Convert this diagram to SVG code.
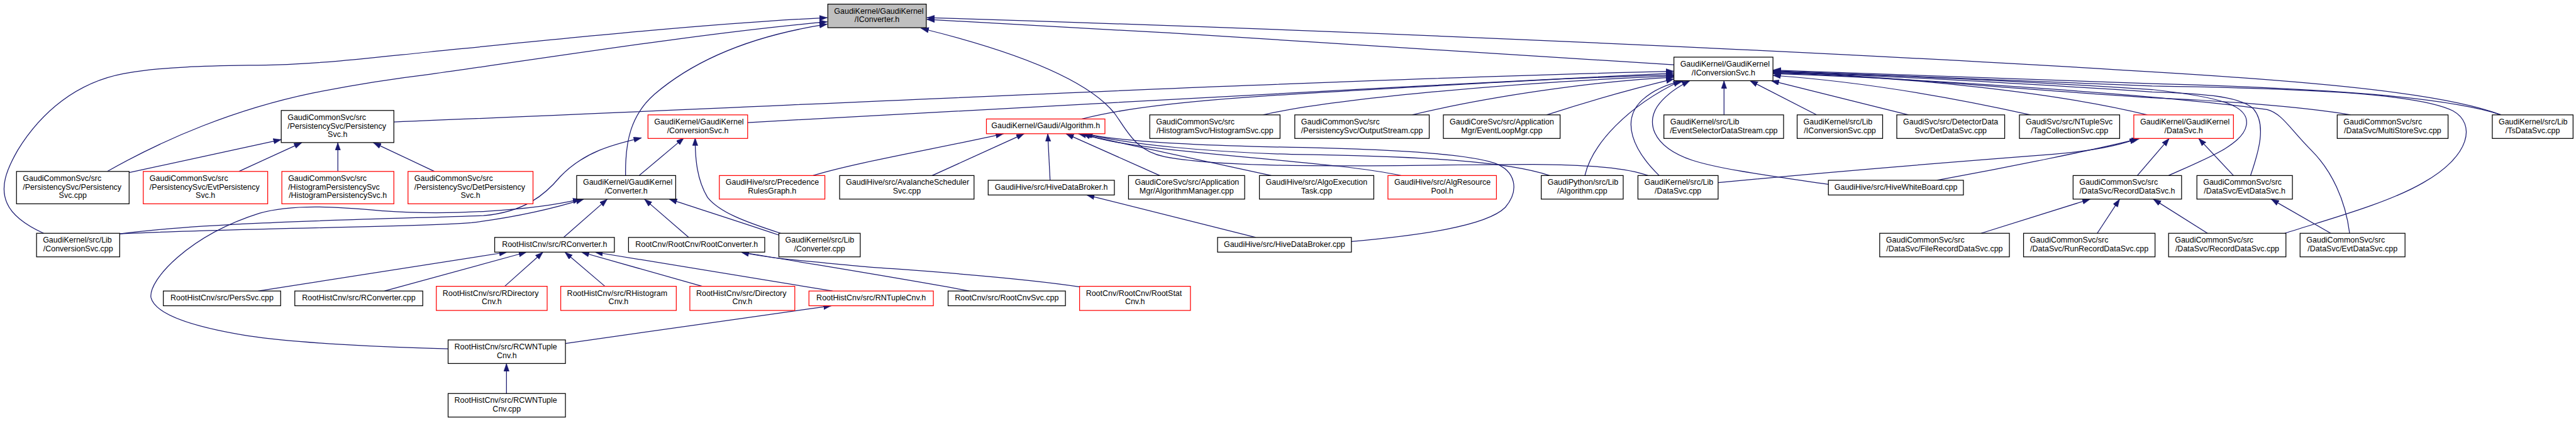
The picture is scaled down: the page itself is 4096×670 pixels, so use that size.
<svg xmlns="http://www.w3.org/2000/svg" width="4096" height="670" viewBox="0 0 4096 670">
<style>
.node rect{fill:#fff;stroke:#000;stroke-width:1.33}
.red rect{stroke:#ff0000}
.root rect{fill:#bfbfbf}
text{font-family:"Liberation Sans",Arial,Helvetica,sans-serif;font-size:13.33px;fill:#000}
.s{text-anchor:start}
.m{text-anchor:middle}
#edges path{fill:none;stroke:#191970;stroke-width:1.33;marker-end:url(#ah)}
</style>
<defs>
<marker id="ah" markerUnits="userSpaceOnUse" markerWidth="14" markerHeight="10" refX="13.3" refY="4.67" orient="auto"><path d="M0,0 L13.3,4.67 L0,9.33 z" fill="#191970" stroke="#191970" stroke-width="0.5"/></marker>
</defs>
<rect width="4096" height="670" fill="#fff"/>
<g transform="scale(0.93752)">
<g id="edges">
<path d="M74,396 C50,385 22,368 12,345 C0,318 10,290 30,255 C70,190 130,140 210,125 C290,110 400,112 470,110 C560,107 650,96 730,88 C950,66 1200,40 1403,30"/>
<path d="M182,291 C280,235 400,185 530,158 C620,140 680,132 730,126 C950,95 1200,55 1403,37"/>
<path d="M1061,298 C1060,240 1070,195 1110,160 C1180,100 1280,60 1403,41"/>
<path d="M2839,110 C2500,88 2000,55 1572,33"/>
<path d="M4242,195 C4150,160 3950,140 3650,122 C3300,100 2500,58 1572,30"/>
<path d="M2795,298 C2760,285 2700,280 2600,279 C2400,279 2100,290 1975,266 C1925,256 1912,222 1890,192 C1840,130 1700,82 1562,48"/>
<path d="M668,207 C1300,182 2200,136 2839,121"/>
<path d="M1268,208 C1700,186 2300,150 2839,124"/>
<path d="M1835,202 C1900,185 2000,172 2190,160 C2450,145 2650,132 2839,127"/>
<path d="M2142,195 C2250,170 2550,140 2839,129"/>
<path d="M2395,195 C2520,165 2700,138 2839,131"/>
<path d="M2623,195 C2700,170 2780,148 2839,134"/>
<path d="M2688,298 C2700,245 2760,180 2851,137"/>
<path d="M2814,298 C2770,255 2748,205 2785,170 C2805,152 2830,142 2856,137"/>
<path d="M3101,313 C3000,298 2920,288 2870,272 C2800,248 2790,205 2815,175 C2830,157 2850,145 2866,137"/>
<path d="M2924,195 L2924,137"/>
<path d="M3081,195 L2968,137"/>
<path d="M3237,195 L3004,137"/>
<path d="M3444,195 C3300,163 3150,138 3007,128"/>
<path d="M3642,195 C3500,160 3250,130 3007,124"/>
<path d="M3987,195 C3900,180 3750,170 3650,166 C3400,150 3200,130 3007,121"/>
<path d="M4242,195 C4150,165 3950,150 3650,142 C3400,133 3200,124 3007,119"/>
<path d="M3875,396 C3950,372 4050,345 4110,310 C4190,265 4200,210 4160,188 C4100,158 3900,150 3650,146 C3400,137 3200,126 3007,120"/>
<path d="M3678,298 C3745,268 3805,245 3810,212 C3815,180 3770,165 3650,152 C3400,136 3200,127 3007,122"/>
<path d="M3817,298 C3830,260 3845,212 3822,185 C3800,162 3720,158 3650,156 C3400,140 3200,128 3007,123"/>
<path d="M3985,396 C3978,340 3955,290 3920,255 C3885,220 3870,192 3845,186 C3700,165 3300,135 3007,125"/>
<path d="M3285,306 C3400,285 3550,255 3629,235"/>
<path d="M2914,310 C3100,292 3350,272 3480,262 C3550,256 3595,247 3625,235"/>
<path d="M3625,298 L3679,235"/>
<path d="M3788,298 L3729,235"/>
<path d="M3360,396 L3545,338"/>
<path d="M3557,396 L3595,338"/>
<path d="M3744,396 L3652,338"/>
<path d="M3953,396 L3852,338"/>
<path d="M1379,298 C1450,276 1600,250 1702,227"/>
<path d="M1581,298 L1737,227"/>
<path d="M1781,306 L1777,227"/>
<path d="M1967,298 L1808,227"/>
<path d="M2156,298 L1829,227"/>
<path d="M2376,298 C2290,279 2100,268 1960,251 C1900,244 1862,236 1836,227"/>
<path d="M2628,298 C2560,275 2420,265 2190,262 C2050,258 1920,246 1838,227"/>
<path d="M2292,410 C2400,400 2520,385 2553,352 C2578,322 2570,290 2535,277 C2480,258 2300,252 2190,250 C2020,247 1900,240 1840,227"/>
<path d="M2130,403 L1843,331"/>
<path d="M1084,298 L1160,234"/>
<path d="M203,397 C350,377 650,372 820,366 C890,360 925,330 950,300 C990,258 1040,245 1088,234"/>
<path d="M1324,396 C1262,376 1220,360 1200,335 C1182,305 1179,270 1179,234"/>
<path d="M203,397 C400,387 700,386 800,378 C880,368 945,352 990,338"/>
<path d="M956,403 L1030,338"/>
<path d="M1168,403 L1093,338"/>
<path d="M1324,400 C1250,375 1190,356 1135,338"/>
<path d="M760,592 C650,590 500,582 420,570 C310,552 262,530 256,505 C252,475 320,400 440,362 C500,345 580,352 650,358 C760,366 900,358 985,338"/>
<path d="M438,494 L860,428"/>
<path d="M652,494 L893,428"/>
<path d="M856,486 L921,428"/>
<path d="M1026,486 L958,428"/>
<path d="M1191,486 L986,428"/>
<path d="M1412,494 L1009,428"/>
<path d="M1644,494 C1560,478 1460,462 1257,428"/>
<path d="M1832,487 C1700,467 1500,456 1460,452 C1380,444 1310,440 1257,428"/>
<path d="M959,583 L1410,519"/>
<path d="M859,668 L859,617"/>
<path d="M219,293 L477,237"/>
<path d="M405,291 L512,242"/>
<path d="M573,291 L573,242"/>
<path d="M737,291 L633,242"/>
</g>

<g id="n_IConverter_h" class="node root"><rect x="1404" y="7" width="167" height="40"/><text class="s" x="1414.7" y="23">GaudiKernel/GaudiKernel</text><text class="m" x="1487.5" y="37.7">/IConverter.h</text></g>
<g id="n_IConversionSvc_h" class="node"><rect x="2839" y="97" width="168" height="40"/><text class="s" x="2849.7" y="113">GaudiKernel/GaudiKernel</text><text class="m" x="2923" y="127.7">/IConversionSvc.h</text></g>
<g id="n_PersistencySvc_h" class="node"><rect x="477" y="187.5" width="191" height="54.5"/><text class="s" x="487.7" y="203.5">GaudiCommonSvc/src</text><text class="s" x="487.7" y="218.2">/PersistencySvc/Persistency</text><text class="m" x="572.5" y="232.8">Svc.h</text></g>
<g id="n_ConversionSvc_h" class="node red"><rect x="1099" y="195" width="169" height="40"/><text class="s" x="1109.7" y="211">GaudiKernel/GaudiKernel</text><text class="m" x="1183.5" y="225.7">/ConversionSvc.h</text></g>
<g id="n_Algorithm_h" class="node red"><rect x="1673" y="202" width="201" height="25"/><text class="m" x="1773.5" y="218">GaudiKernel/Gaudi/Algorithm.h</text></g>
<g id="n_HistogramSvc_cpp" class="node"><rect x="1950" y="195" width="221" height="40"/><text class="s" x="1960.7" y="211">GaudiCommonSvc/src</text><text class="m" x="2060.5" y="225.7">/HistogramSvc/HistogramSvc.cpp</text></g>
<g id="n_OutputStream_cpp" class="node"><rect x="2196" y="195" width="228" height="40"/><text class="s" x="2206.7" y="211">GaudiCommonSvc/src</text><text class="m" x="2310" y="225.7">/PersistencySvc/OutputStream.cpp</text></g>
<g id="n_EventLoopMgr_cpp" class="node"><rect x="2448" y="195" width="198" height="40"/><text class="s" x="2458.7" y="211">GaudiCoreSvc/src/Application</text><text class="m" x="2547" y="225.7">Mgr/EventLoopMgr.cpp</text></g>
<g id="n_EventSelectorDataStream_cpp" class="node"><rect x="2822" y="195" width="203" height="40"/><text class="s" x="2832.7" y="211">GaudiKernel/src/Lib</text><text class="m" x="2923.5" y="225.7">/EventSelectorDataStream.cpp</text></g>
<g id="n_IConversionSvc_cpp" class="node"><rect x="3048" y="195" width="145" height="40"/><text class="s" x="3058.7" y="211">GaudiKernel/src/Lib</text><text class="m" x="3120.5" y="225.7">/IConversionSvc.cpp</text></g>
<g id="n_DetDataSvc_cpp" class="node"><rect x="3217" y="195" width="183" height="40"/><text class="s" x="3227.7" y="211">GaudiSvc/src/DetectorData</text><text class="m" x="3308.5" y="225.7">Svc/DetDataSvc.cpp</text></g>
<g id="n_TagCollectionSvc_cpp" class="node"><rect x="3425" y="195" width="170" height="40"/><text class="s" x="3435.7" y="211">GaudiSvc/src/NTupleSvc</text><text class="m" x="3510" y="225.7">/TagCollectionSvc.cpp</text></g>
<g id="n_DataSvc_h" class="node red"><rect x="3619" y="195" width="169" height="40"/><text class="s" x="3629.7" y="211">GaudiKernel/GaudiKernel</text><text class="m" x="3703.5" y="225.7">/DataSvc.h</text></g>
<g id="n_MultiStoreSvc_cpp" class="node"><rect x="3964" y="195" width="188" height="40"/><text class="s" x="3974.7" y="211">GaudiCommonSvc/src</text><text class="m" x="4058" y="225.7">/DataSvc/MultiStoreSvc.cpp</text></g>
<g id="n_TsDataSvc_cpp" class="node"><rect x="4227" y="195" width="137" height="40"/><text class="s" x="4237.7" y="211">GaudiKernel/src/Lib</text><text class="m" x="4295.5" y="225.7">/TsDataSvc.cpp</text></g>

<g id="n_PersistencySvc_cpp" class="node"><rect x="28" y="291" width="191" height="55"/><text class="s" x="38.7" y="307">GaudiCommonSvc/src</text><text class="s" x="38.7" y="321.7">/PersistencySvc/Persistency</text><text class="m" x="123.5" y="336.3">Svc.cpp</text></g>
<g id="n_EvtPersistencySvc_h" class="node red"><rect x="243" y="291" width="211" height="55"/><text class="s" x="253.7" y="307">GaudiCommonSvc/src</text><text class="s" x="253.7" y="321.7">/PersistencySvc/EvtPersistency</text><text class="m" x="348.5" y="336.3">Svc.h</text></g>
<g id="n_HistogramPersistencySvc_h" class="node red"><rect x="478" y="291" width="190" height="55"/><text class="s" x="488.7" y="307">GaudiCommonSvc/src</text><text class="s" x="488.7" y="321.7">/HistogramPersistencySvc</text><text class="m" x="573" y="336.3">/HistogramPersistencySvc.h</text></g>
<g id="n_DetPersistencySvc_h" class="node red"><rect x="692" y="291" width="212" height="55"/><text class="s" x="702.7" y="307">GaudiCommonSvc/src</text><text class="s" x="702.7" y="321.7">/PersistencySvc/DetPersistency</text><text class="m" x="798" y="336.3">Svc.h</text></g>
<g id="n_Converter_h" class="node"><rect x="978" y="298" width="168" height="40"/><text class="s" x="988.7" y="314">GaudiKernel/GaudiKernel</text><text class="m" x="1062" y="328.7">/Converter.h</text></g>
<g id="n_PrecedenceRulesGraph_h" class="node red"><rect x="1220" y="298" width="179" height="40"/><text class="s" x="1230.7" y="314">GaudiHive/src/Precedence</text><text class="m" x="1309.5" y="328.7">RulesGraph.h</text></g>
<g id="n_AvalancheSchedulerSvc_cpp" class="node"><rect x="1424" y="298" width="228" height="40"/><text class="s" x="1434.7" y="314">GaudiHive/src/AvalancheScheduler</text><text class="m" x="1538" y="328.7">Svc.cpp</text></g>
<g id="n_HiveDataBroker_h" class="node"><rect x="1676" y="306" width="214" height="25"/><text class="m" x="1783" y="322">GaudiHive/src/HiveDataBroker.h</text></g>
<g id="n_AlgorithmManager_cpp" class="node"><rect x="1914" y="298" width="197" height="40"/><text class="s" x="1924.7" y="314">GaudiCoreSvc/src/Application</text><text class="m" x="2012.5" y="328.7">Mgr/AlgorithmManager.cpp</text></g>
<g id="n_AlgoExecutionTask_cpp" class="node"><rect x="2136" y="298" width="194" height="40"/><text class="s" x="2146.7" y="314">GaudiHive/src/AlgoExecution</text><text class="m" x="2233" y="328.7">Task.cpp</text></g>
<g id="n_AlgResourcePool_h" class="node red"><rect x="2354" y="298" width="184" height="40"/><text class="s" x="2364.7" y="314">GaudiHive/src/AlgResource</text><text class="m" x="2446" y="328.7">Pool.h</text></g>
<g id="n_Algorithm_cpp" class="node"><rect x="2614" y="298" width="139" height="40"/><text class="s" x="2624.7" y="314">GaudiPython/src/Lib</text><text class="m" x="2683.5" y="328.7">/Algorithm.cpp</text></g>
<g id="n_DataSvc_cpp" class="node"><rect x="2778" y="298" width="136" height="40"/><text class="s" x="2788.7" y="314">GaudiKernel/src/Lib</text><text class="m" x="2846" y="328.7">/DataSvc.cpp</text></g>
<g id="n_HiveWhiteBoard_cpp" class="node"><rect x="3101" y="306" width="229" height="25"/><text class="m" x="3215.5" y="322">GaudiHive/src/HiveWhiteBoard.cpp</text></g>
<g id="n_RecordDataSvc_h" class="node"><rect x="3516" y="298" width="184" height="40"/><text class="s" x="3526.7" y="314">GaudiCommonSvc/src</text><text class="m" x="3608" y="328.7">/DataSvc/RecordDataSvc.h</text></g>
<g id="n_EvtDataSvc_h" class="node"><rect x="3726" y="298" width="162" height="40"/><text class="s" x="3736.7" y="314">GaudiCommonSvc/src</text><text class="m" x="3807" y="328.7">/DataSvc/EvtDataSvc.h</text></g>

<g id="n_ConversionSvc_cpp" class="node"><rect x="62" y="396" width="141" height="40"/><text class="s" x="72.7" y="412">GaudiKernel/src/Lib</text><text class="m" x="132.5" y="426.7">/ConversionSvc.cpp</text></g>
<g id="n_RConverter_h" class="node"><rect x="839" y="403" width="203" height="25"/><text class="m" x="940.5" y="419">RootHistCnv/src/RConverter.h</text></g>
<g id="n_RootConverter_h" class="node"><rect x="1066" y="403" width="231" height="25"/><text class="m" x="1181.5" y="419">RootCnv/RootCnv/RootConverter.h</text></g>
<g id="n_Converter_cpp" class="node"><rect x="1321" y="396" width="138" height="40"/><text class="s" x="1331.7" y="412">GaudiKernel/src/Lib</text><text class="m" x="1390" y="426.7">/Converter.cpp</text></g>
<g id="n_HiveDataBroker_cpp" class="node"><rect x="2065" y="403" width="227" height="25"/><text class="m" x="2178.5" y="419">GaudiHive/src/HiveDataBroker.cpp</text></g>
<g id="n_FileRecordDataSvc_cpp" class="node"><rect x="3188" y="396" width="220" height="40"/><text class="s" x="3198.7" y="412">GaudiCommonSvc/src</text><text class="m" x="3298" y="426.7">/DataSvc/FileRecordDataSvc.cpp</text></g>
<g id="n_RunRecordDataSvc_cpp" class="node"><rect x="3432" y="396" width="223" height="40"/><text class="s" x="3442.7" y="412">GaudiCommonSvc/src</text><text class="m" x="3543.5" y="426.7">/DataSvc/RunRecordDataSvc.cpp</text></g>
<g id="n_RecordDataSvc_cpp" class="node"><rect x="3678" y="396" width="199" height="40"/><text class="s" x="3688.7" y="412">GaudiCommonSvc/src</text><text class="m" x="3777.5" y="426.7">/DataSvc/RecordDataSvc.cpp</text></g>
<g id="n_EvtDataSvc_cpp" class="node"><rect x="3901" y="396" width="178" height="40"/><text class="s" x="3911.7" y="412">GaudiCommonSvc/src</text><text class="m" x="3990" y="426.7">/DataSvc/EvtDataSvc.cpp</text></g>

<g id="n_PersSvc_cpp" class="node"><rect x="277" y="494" width="199" height="25"/><text class="m" x="376.5" y="510">RootHistCnv/src/PersSvc.cpp</text></g>
<g id="n_RConverter_cpp" class="node"><rect x="500" y="494" width="217" height="25"/><text class="m" x="608.5" y="510">RootHistCnv/src/RConverter.cpp</text></g>
<g id="n_RDirectoryCnv_h" class="node red"><rect x="740" y="486" width="188" height="41"/><text class="s" x="750.7" y="502">RootHistCnv/src/RDirectory</text><text class="m" x="834" y="516.7">Cnv.h</text></g>
<g id="n_RHistogramCnv_h" class="node red"><rect x="951" y="486" width="196" height="41"/><text class="s" x="961.7" y="502">RootHistCnv/src/RHistogram</text><text class="m" x="1049" y="516.7">Cnv.h</text></g>
<g id="n_DirectoryCnv_h" class="node red"><rect x="1170" y="486" width="178" height="41"/><text class="s" x="1180.7" y="502">RootHistCnv/src/Directory</text><text class="m" x="1259" y="516.7">Cnv.h</text></g>
<g id="n_RNTupleCnv_h" class="node red"><rect x="1372" y="494" width="211" height="25"/><text class="m" x="1477.5" y="510">RootHistCnv/src/RNTupleCnv.h</text></g>
<g id="n_RootCnvSvc_cpp" class="node"><rect x="1608" y="494" width="199" height="25"/><text class="m" x="1707.5" y="510">RootCnv/src/RootCnvSvc.cpp</text></g>
<g id="n_RootStatCnv_h" class="node red"><rect x="1831" y="486" width="188" height="41"/><text class="s" x="1841.7" y="502">RootCnv/RootCnv/RootStat</text><text class="m" x="1925" y="516.7">Cnv.h</text></g>

<g id="n_RCWNTupleCnv_h" class="node"><rect x="760" y="577" width="199" height="40"/><text class="s" x="770.7" y="593">RootHistCnv/src/RCWNTuple</text><text class="m" x="859.5" y="607.7">Cnv.h</text></g>
<g id="n_RCWNTupleCnv_cpp" class="node"><rect x="760" y="668" width="199" height="40"/><text class="s" x="770.7" y="684">RootHistCnv/src/RCWNTuple</text><text class="m" x="859.5" y="698.7">Cnv.cpp</text></g>
</g>
</svg>
